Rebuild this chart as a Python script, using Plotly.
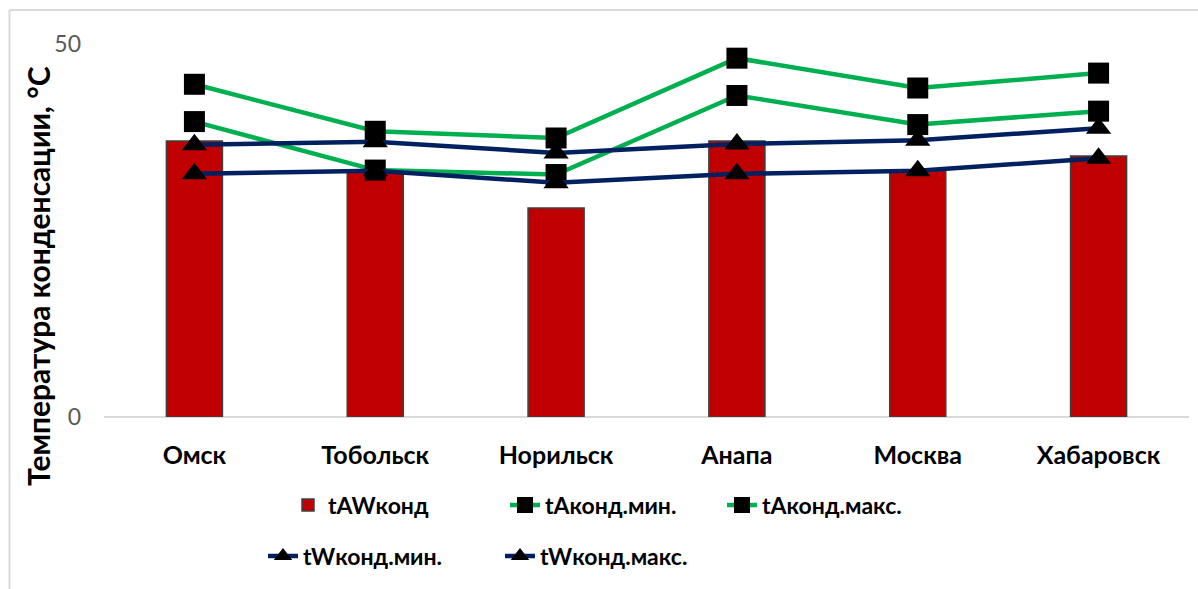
import plotly.graph_objects as go

# Cities and condensation temperatures, °C
cities = ["Омск", "Тобольск", "Норильск", "Анапа", "Москва", "Хабаровск"]
t_aw_kond = [37.0, 33.0, 28.0, 37.0, 33.0, 35.0]
t_a_min = [39.6, 33.1, 32.5, 43.1, 39.2, 41.0]
t_a_max = [44.6, 38.3, 37.4, 48.1, 44.1, 46.1]
t_w_min = [32.6, 33.0, 31.4, 32.6, 33.0, 34.7]
t_w_max = [36.5, 36.9, 35.4, 36.6, 37.1, 38.7]
y_ticks = [0, 50]

W, H = 1198, 589
L, R, T, B = 104, 9, 44, 172
PW, PH = W - L - R, H - T - B

FONT = "Lato"
GREEN = "#00B050"
NAVY = "#002060"
RED = "#C00000"


def px_x(x):
    return (x - L) / PW


def px_y(y):
    return (H - B - y) / PH


fig = go.Figure()

fig.add_trace(go.Bar(
    x=cities, y=t_aw_kond, name="tAWконд",
    marker=dict(color=RED, line=dict(color="#404040", width=1.5)),
    width=0.31, legend="legend",
))

line_series = [
    ("tAконд.мин.", t_a_min, GREEN, "square", "legend"),
    ("tAконд.макс.", t_a_max, GREEN, "square", "legend"),
    ("tWконд.мин.", t_w_min, NAVY, "triangle-up", "legend2"),
    ("tWконд.макс.", t_w_max, NAVY, "triangle-up", "legend2"),
]
for name, vals, col, sym, leg in line_series:
    fig.add_trace(go.Scatter(
        x=cities, y=vals, name=name, mode="lines+markers",
        line=dict(color=col, width=4.5),
        marker=dict(symbol=sym, color="black",
                    size=21 if sym == "square" else 22,
                    line=dict(width=0)),
        legend=leg,
    ))

legend_common = dict(
    orientation="h", xanchor="left", yanchor="middle",
    font=dict(family=FONT, size=23, color="black", weight="bold"),
    bgcolor="rgba(0,0,0,0)", itemwidth=30,
    traceorder="normal",
)

fig.update_layout(
    width=W, height=H,
    margin=dict(l=L, r=R, t=T, b=B),
    paper_bgcolor="white", plot_bgcolor="white",
    font=dict(family=FONT),
    barmode="overlay",
    xaxis=dict(
        type="category", showgrid=False, showline=False, zeroline=False,
        ticks="", ticklabelstandoff=21,
        tickfont=dict(family=FONT, size=25, color="black", weight="bold"),
    ),
    yaxis=dict(
        range=[0, 50], tickvals=y_ticks, showgrid=True,
        gridcolor="#D9D9D9", gridwidth=2,
        zeroline=True, zerolinecolor="#D9D9D9", zerolinewidth=2,
        showline=False, ticks="", ticklabelstandoff=22,
        tickfont=dict(family=FONT, size=23, color="#595959"),
    ),
    legend=dict(x=px_x(288), y=px_y(505), entrywidth=172, **legend_common),
    legend2=dict(x=px_x(263), y=px_y(556), entrywidth=192, **legend_common),
    showlegend=True,
)

# Y-axis title
fig.add_annotation(
    text="Температура конденсации, °С", textangle=-90,
    xref="paper", yref="paper", x=px_x(38), y=px_y(276),
    xanchor="center", yanchor="middle", showarrow=False,
    font=dict(family=FONT, size=30, color="black", weight="bold"),
)

# Chart frame (left and top edges)
frame = dict(type="line", xref="paper", yref="paper",
             line=dict(color="#D9D9D9", width=2), layer="below")
fig.add_shape(x0=px_x(9.5), x1=px_x(9.5), y0=px_y(10), y1=px_y(H), **frame)
fig.add_shape(x0=px_x(9.5), x1=px_x(W), y0=px_y(10), y1=px_y(10), **frame)

fig.write_html("out.html")
